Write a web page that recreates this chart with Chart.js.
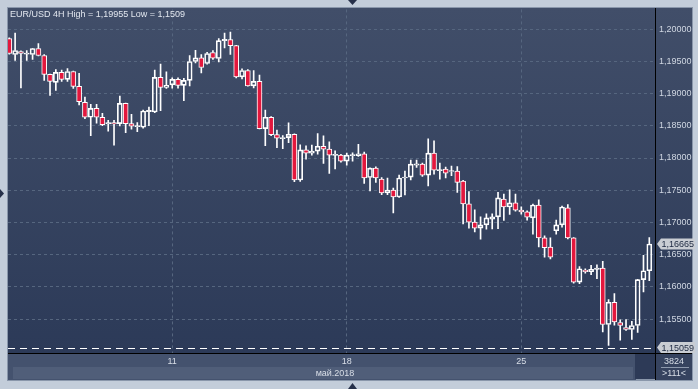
<!DOCTYPE html>
<html>
<head>
    <title>EUR/USD 4H</title>
    <script src="https://cdn.jsdelivr.net/npm/chart.js"></script>
    <style>
        body {
            margin: 0;
            padding: 0;
            background: #c3cdda;
        }

        #fx-chart {
            display: block;
        }
    </style>
</head>
<body>
    <canvas id="fx-chart" width="698" height="389"></canvas>

    <script>
        // 4H candles, 03.05 - 31.05.2018
        const openPrice = [
            1.19853, 1.19606, 1.19652, 1.19612, 1.19606, 1.19699, 1.19590, 1.19297, 1.19173, 1.19328,
            1.19219, 1.19343, 1.19111, 1.18864, 1.18632, 1.18771, 1.18632, 1.18530, 1.18548, 1.18533,
            1.18848, 1.18533, 1.18485, 1.18477, 1.18720, 1.18714, 1.19250, 1.19096, 1.19136, 1.19219,
            1.19127, 1.19204, 1.19498, 1.19553, 1.19467, 1.19637, 1.19544, 1.19822, 1.19838, 1.19745,
            1.19259, 1.19358, 1.19120, 1.19188, 1.18456, 1.18632, 1.18363, 1.18300, 1.18316, 1.18369,
            1.17658, 1.18126, 1.18075, 1.18106, 1.18183, 1.18137, 1.18040, 1.18044, 1.17952, 1.18035,
            1.18038, 1.18064, 1.17698, 1.17843, 1.17673, 1.17457, 1.17503, 1.17395, 1.17689, 1.17704,
            1.17890, 1.17905, 1.17735, 1.18075, 1.17803, 1.17828, 1.17790, 1.17797, 1.17642, 1.17287,
            1.17005, 1.16913, 1.16962, 1.17052, 1.17086, 1.17364, 1.17240, 1.17304, 1.17191, 1.17163,
            1.17070, 1.17271, 1.16761, 1.16619, 1.16871, 1.16962, 1.17225, 1.16761, 1.16075, 1.16260,
            1.16236, 1.16271, 1.16291, 1.15416, 1.15761, 1.15447, 1.15370, 1.15339, 1.15401, 1.16112,
            1.16251
        ];
        const highPrice = [
            1.19866, 1.19940, 1.19665, 1.19668, 1.19703, 1.19776, 1.19603, 1.19301, 1.19374, 1.19363,
            1.19389, 1.19348, 1.19312, 1.18946, 1.18833, 1.18833, 1.18694, 1.18585, 1.18585, 1.18961,
            1.18853, 1.18678, 1.18548, 1.18745, 1.18791, 1.19363, 1.19456, 1.19337, 1.19244, 1.19244,
            1.19235, 1.19590, 1.19672, 1.19606, 1.19641, 1.19668, 1.19853, 1.19940, 1.19955, 1.19750,
            1.19383, 1.19374, 1.19358, 1.19286, 1.18745, 1.18644, 1.18435, 1.18347, 1.18544, 1.18374,
            1.18204, 1.18188, 1.18199, 1.18378, 1.18343, 1.18250, 1.18111, 1.18057, 1.18075, 1.18080,
            1.18214, 1.18091, 1.17848, 1.17863, 1.17698, 1.17689, 1.17534, 1.17735, 1.17797, 1.17967,
            1.17967, 1.17921, 1.18296, 1.18265, 1.17921, 1.17859, 1.17874, 1.17868, 1.17655, 1.17477,
            1.17196, 1.17087, 1.17132, 1.17132, 1.17466, 1.17441, 1.17505, 1.17441, 1.17242, 1.17180,
            1.17284, 1.17350, 1.16792, 1.16761, 1.17036, 1.17253, 1.17276, 1.16766, 1.16317, 1.16282,
            1.16333, 1.16341, 1.16395, 1.15803, 1.15895, 1.15487, 1.15493, 1.15467, 1.16117, 1.16488,
            1.16766
        ];
        const lowPrice = [
            1.19611, 1.19513, 1.19089, 1.19513, 1.19528, 1.19586, 1.19204, 1.18972, 1.19049, 1.19188,
            1.19188, 1.19080, 1.18822, 1.18610, 1.18347, 1.18539, 1.18502, 1.18415, 1.18199, 1.18497,
            1.18394, 1.18446, 1.18409, 1.18462, 1.18502, 1.18703, 1.18734, 1.19080, 1.19085, 1.19085,
            1.18888, 1.19120, 1.19476, 1.19321, 1.19456, 1.19528, 1.19491, 1.19708, 1.19606, 1.19244,
            1.19229, 1.19116, 1.19089, 1.18451, 1.18193, 1.18347, 1.18162, 1.18146, 1.18239, 1.17631,
            1.17636, 1.17983, 1.18044, 1.18060, 1.17914, 1.17760, 1.17832, 1.17936, 1.17890, 1.17952,
            1.18023, 1.17605, 1.17488, 1.17621, 1.17431, 1.17431, 1.17148, 1.17390, 1.17426, 1.17658,
            1.17853, 1.17713, 1.17565, 1.17751, 1.17673, 1.17689, 1.17724, 1.17466, 1.16978, 1.16913,
            1.16851, 1.16739, 1.16897, 1.16900, 1.16905, 1.17033, 1.17126, 1.17175, 1.17129, 1.17036,
            1.16817, 1.16619, 1.16461, 1.16433, 1.16817, 1.16925, 1.16746, 1.16059, 1.16050, 1.16214,
            1.16189, 1.16127, 1.15302, 1.15090, 1.15405, 1.15173, 1.15323, 1.15184, 1.15292, 1.15920,
            1.16096
        ];
        const closePrice = [
            1.19621, 1.19668, 1.19621, 1.19630, 1.19699, 1.19590, 1.19297, 1.19188, 1.19328, 1.19219,
            1.19343, 1.19111, 1.18873, 1.18632, 1.18771, 1.18632, 1.18517, 1.18548, 1.18530, 1.18848,
            1.18533, 1.18493, 1.18503, 1.18729, 1.18738, 1.19250, 1.19096, 1.19127, 1.19219, 1.19127,
            1.19204, 1.19498, 1.19553, 1.19405, 1.19621, 1.19549, 1.19822, 1.19840, 1.19745, 1.19259,
            1.19358, 1.19120, 1.19188, 1.18456, 1.18632, 1.18363, 1.18307, 1.18318, 1.18369, 1.17658,
            1.18126, 1.18075, 1.18106, 1.18183, 1.18137, 1.18044, 1.18058, 1.17952, 1.18044, 1.18053,
            1.18064, 1.17689, 1.17843, 1.17689, 1.17457, 1.17503, 1.17395, 1.17689, 1.17704, 1.17905,
            1.17910, 1.17735, 1.18075, 1.17812, 1.17820, 1.17766, 1.17805, 1.17621, 1.17287, 1.17005,
            1.16913, 1.16962, 1.17070, 1.17086, 1.17380, 1.17240, 1.17304, 1.17191, 1.17163, 1.17083,
            1.17271, 1.16761, 1.16607, 1.16461, 1.16962, 1.17240, 1.16761, 1.16075, 1.16282, 1.16236,
            1.16271, 1.16291, 1.15416, 1.15761, 1.15456, 1.15401, 1.15339, 1.15401, 1.16112, 1.16251,
            1.16665
        ];

        // price axis ticks and the day marks under the chart
        const priceTicks = [1.155, 1.16, 1.165, 1.17, 1.175, 1.18, 1.185, 1.19, 1.195, 1.2];
        const dayTickPos = [29, 59, 89];
        const dayTickText = ['11', '18', '25'];
        const monthText = 'май.2018';
        const titleText = 'EUR/USD 4H High = 1,19955 Low = 1,1509';
        const lastPrice = 1.16665;
        const lowMark = 1.15059;
        const barsInfo = ['3824', '>111<'];

        const priceFmt = v => v.toFixed(5).replace('.', ',');
        const candleNo = openPrice.map((v, i) => i + 1);

        // frame, panels and the small texts around the plot
        const framePlugin = {
            id: 'frame',
            beforeDraw(chart) {
                const ctx = chart.ctx;
                ctx.save();
                ctx.fillStyle = '#c3cdda';
                ctx.fillRect(0, 0, 698, 389);
                ctx.fillStyle = '#8a97ab';
                ctx.fillRect(7, 7, 686, 374);
                const g = ctx.createLinearGradient(0, 8, 0, 353);
                g.addColorStop(0, '#414e69');
                g.addColorStop(1, '#2c3a58');
                ctx.fillStyle = g;
                ctx.fillRect(8, 8, 684, 345);
                // bottom time panel
                ctx.fillStyle = '#44526e';
                ctx.fillRect(8, 354, 628, 26);
                ctx.fillStyle = '#505e79';
                ctx.fillRect(13, 367, 620, 12);
                ctx.fillStyle = '#2d3a57';
                ctx.fillRect(635, 354, 20, 25);
                ctx.fillStyle = '#36435f';
                ctx.fillRect(656, 354, 36, 26);
                ctx.restore();
            },
            afterDraw(chart) {
                const ctx = chart.ctx;
                const y = chart.scales.y;
                ctx.save();

                // black separators
                ctx.strokeStyle = '#000000';
                ctx.lineWidth = 1;
                ctx.beginPath();
                ctx.moveTo(655.5, 8);
                ctx.lineTo(655.5, 380);
                ctx.moveTo(8, 353.5);
                ctx.lineTo(692, 353.5);
                ctx.stroke();

                // low line
                const ly = Math.round(y.getPixelForValue(lowMark)) + 0.5;
                ctx.strokeStyle = '#ffffff';
                ctx.setLineDash([7, 5]);
                ctx.beginPath();
                ctx.moveTo(8, ly);
                ctx.lineTo(655, ly);
                ctx.stroke();
                ctx.setLineDash([]);

                ctx.font = '9px "Liberation Sans", Arial, sans-serif';
                ctx.textBaseline = 'middle';

                // price tags on the axis
                [lastPrice, lowMark].forEach(p => {
                    const ty = y.getPixelForValue(p);
                    ctx.fillStyle = '#c9cdd3';
                    ctx.beginPath();
                    ctx.moveTo(657, ty);
                    ctx.lineTo(661, ty - 5.5);
                    ctx.lineTo(695, ty - 5.5);
                    ctx.lineTo(695, ty + 5.5);
                    ctx.lineTo(661, ty + 5.5);
                    ctx.closePath();
                    ctx.fill();
                    ctx.fillStyle = '#1c2840';
                    ctx.textAlign = 'left';
                    ctx.fillText(priceFmt(p), 661.5, ty + 0.5);
                });

                // title
                ctx.fillStyle = '#e2e7ef';
                ctx.textAlign = 'left';
                ctx.fillText(titleText, 10, 15);

                // month and bar counter
                ctx.fillStyle = '#d8dee7';
                ctx.textAlign = 'center';
                ctx.fillText(monthText, 335, 373.5);
                ctx.fillText(barsInfo[0], 674, 361.5);
                ctx.fillText(barsInfo[1], 674, 374);
                ctx.strokeStyle = '#8d99ad';
                ctx.beginPath();
                ctx.moveTo(661, 367.5);
                ctx.lineTo(689, 367.5);
                ctx.stroke();

                // little scroll arrows on the frame
                ctx.fillStyle = '#26304a';
                ctx.beginPath();
                ctx.moveTo(348, 0); ctx.lineTo(357, 0); ctx.lineTo(352.5, 5);
                ctx.closePath(); ctx.fill();
                ctx.beginPath();
                ctx.moveTo(348, 389); ctx.lineTo(357, 389); ctx.lineTo(352.5, 383);
                ctx.closePath(); ctx.fill();
                ctx.beginPath();
                ctx.moveTo(0, 189); ctx.lineTo(0, 198); ctx.lineTo(4, 193.5);
                ctx.closePath(); ctx.fill();

                ctx.restore();
            }
        };

        const bodyData = candleNo.map((x, i) => ({x: x, y: [openPrice[i], closePrice[i]]}));
        const upperWick = candleNo.map((x, i) => ({x: x, y: [Math.max(openPrice[i], closePrice[i]), highPrice[i]]}));
        const lowerWick = candleNo.map((x, i) => ({x: x, y: [lowPrice[i], Math.min(openPrice[i], closePrice[i])]}));
        const bodyColors = candleNo.map((x, i) => closePrice[i] >= openPrice[i] ? 'rgba(0,0,0,0)' : '#e3173d');

        const ctx = document.getElementById('fx-chart').getContext('2d');
        const fxChart = new Chart(ctx, {
            type: 'bar',
            data: {
                datasets: [{
                    label: 'body',
                    data: bodyData,
                    backgroundColor: bodyColors,
                    borderColor: '#ffffff',
                    borderWidth: 1,
                    borderSkipped: false,
                    barThickness: 5,
                    grouped: false,
                    order: 0
                }, {
                    label: 'high',
                    data: upperWick,
                    backgroundColor: '#ffffff',
                    borderWidth: 0,
                    barThickness: 1,
                    grouped: false,
                    order: 1
                }, {
                    label: 'low',
                    data: lowerWick,
                    backgroundColor: '#ffffff',
                    borderWidth: 0,
                    barThickness: 1,
                    grouped: false,
                    order: 1
                }]
            },
            options: {
                responsive: false,
                animation: false,
                layout: {
                    padding: {left: 8, top: 8, right: 6, bottom: 9}
                },
                plugins: {
                    legend: {display: false},
                    tooltip: {enabled: false}
                },
                scales: {
                    x: {
                        type: 'linear',
                        min: 0.7766,
                        max: 111.98,
                        offset: false,
                        afterBuildTicks: scale => {
                            scale.ticks = dayTickPos.map(v => ({value: v}));
                        },
                        afterFit: scale => {
                            scale.height = 27;
                        },
                        ticks: {
                            autoSkip: false,
                            maxRotation: 0,
                            padding: 3,
                            color: '#d8dee7',
                            font: {family: '"Liberation Sans", Arial, sans-serif', size: 9},
                            callback: v => dayTickText[dayTickPos.indexOf(v)]
                        },
                        grid: {
                            offset: false,
                            color: '#56667f',
                            drawTicks: false
                        },
                        border: {display: false, dash: [3, 3]}
                    },
                    y: {
                        position: 'right',
                        min: 1.14974,
                        max: 1.20306,
                        afterBuildTicks: scale => {
                            scale.ticks = priceTicks.map(v => ({value: v}));
                        },
                        afterFit: scale => {
                            scale.width = 37;
                        },
                        ticks: {
                            padding: 4,
                            color: '#d0d7e2',
                            font: {family: '"Liberation Sans", Arial, sans-serif', size: 9},
                            callback: v => priceFmt(v)
                        },
                        grid: {
                            color: '#56667f',
                            drawTicks: false
                        },
                        border: {display: false, dash: [3, 3]}
                    }
                }
            },
            plugins: [framePlugin]
        });
    </script>
</body>
</html>
